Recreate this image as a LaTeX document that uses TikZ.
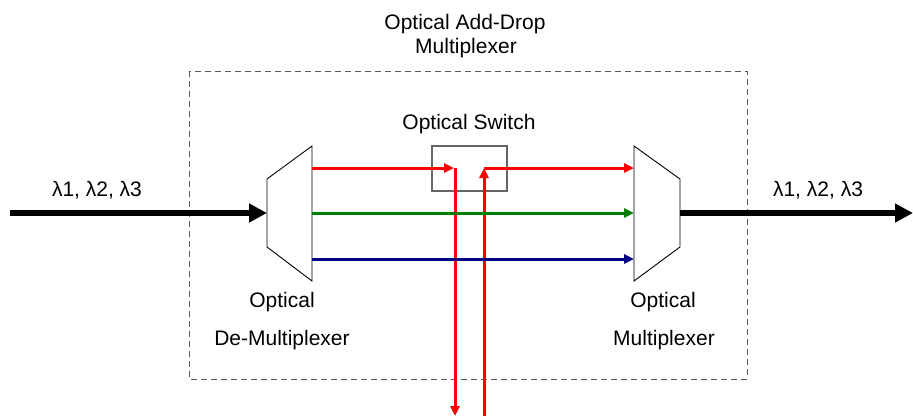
\documentclass[tikz,border=0pt]{standalone}
\usepackage{fontspec}
\setmainfont{Liberation Sans}
\usetikzlibrary{arrows.meta}
\begin{document}
\begin{tikzpicture}[x=1pt,y=-1pt,
  lbl/.style={font=\fontsize{21}{25}\selectfont, inner sep=0pt, anchor=base},
  fiber/.style={line width=3pt, -{Triangle[length=10pt,width=9pt]}},
  trunk/.style={line width=6pt, -{Triangle[length=18pt,width=18pt]}},
  device/.style={draw=black, line width=0.9pt, line join=miter},
  frame/.style={draw=black!65, line width=1pt, dash pattern=on 6pt off 4pt},
  swbox/.style={draw=black!60, line width=1.3pt}
]
\useasboundingbox (0,0) rectangle (913,416);
% frame
\draw[frame] (189,71) rectangle (747,379);
% demux and mux
\draw[device] (267,179) -- (312,146) -- (312,281) -- (267,247) -- cycle;
\draw[device] (634,146) -- (680,179) -- (680,247) -- (634,281) -- cycle;
\coordinate (dmin) at (267,213);
\coordinate (dmR) at (312,168);
\coordinate (dmG) at (312,213);
\coordinate (dmB) at (312,259);
\coordinate (mxR) at (634,168);
\coordinate (mxG) at (634,213);
\coordinate (mxB) at (634,259);
\coordinate (mxout) at (680,213);
\coordinate (in) at (10,213);
\coordinate (out) at (913,213);
% switch
\draw[swbox] (432,146) rectangle (507,191);
\coordinate (swin) at (454,168);
\coordinate (swout) at (484,168);
\coordinate (drop) at (455,416);
\coordinate (add) at (484,416);
% trunks
\draw[trunk] (in) -- (dmin);
\draw[trunk] (mxout) -- (out);
% fibers
\draw[fiber, red] (dmR) -- (swin);
\draw[fiber, red] (455,168) -- (drop);
\draw[fiber, red] (add) -- (swout);
\draw[fiber, red] (swout) -- (mxR);
\draw[fiber, green!50!black] (dmG) -- (mxG);
\draw[fiber, blue!50!black] (dmB) -- (mxB);
% labels
\node[lbl] (t1) at (465,29) {Optical Add-Drop};
\node[lbl] (t2) at (466,53) {Multiplexer};
\node[lbl] (t3) at (469,129) {Optical Switch};
\node[lbl] (t4) at (97,196) {λ1, λ2, λ3};
\node[lbl] (t5) at (818,196) {λ1, λ2, λ3};
\node[lbl] (t6) at (282,307) {Optical};
\node[lbl] (t7) at (282,345) {De-Multiplexer};
\node[lbl] (t8) at (663,307) {Optical};
\node[lbl] (t9) at (664,345) {Multiplexer};
\end{tikzpicture}
\end{document}
